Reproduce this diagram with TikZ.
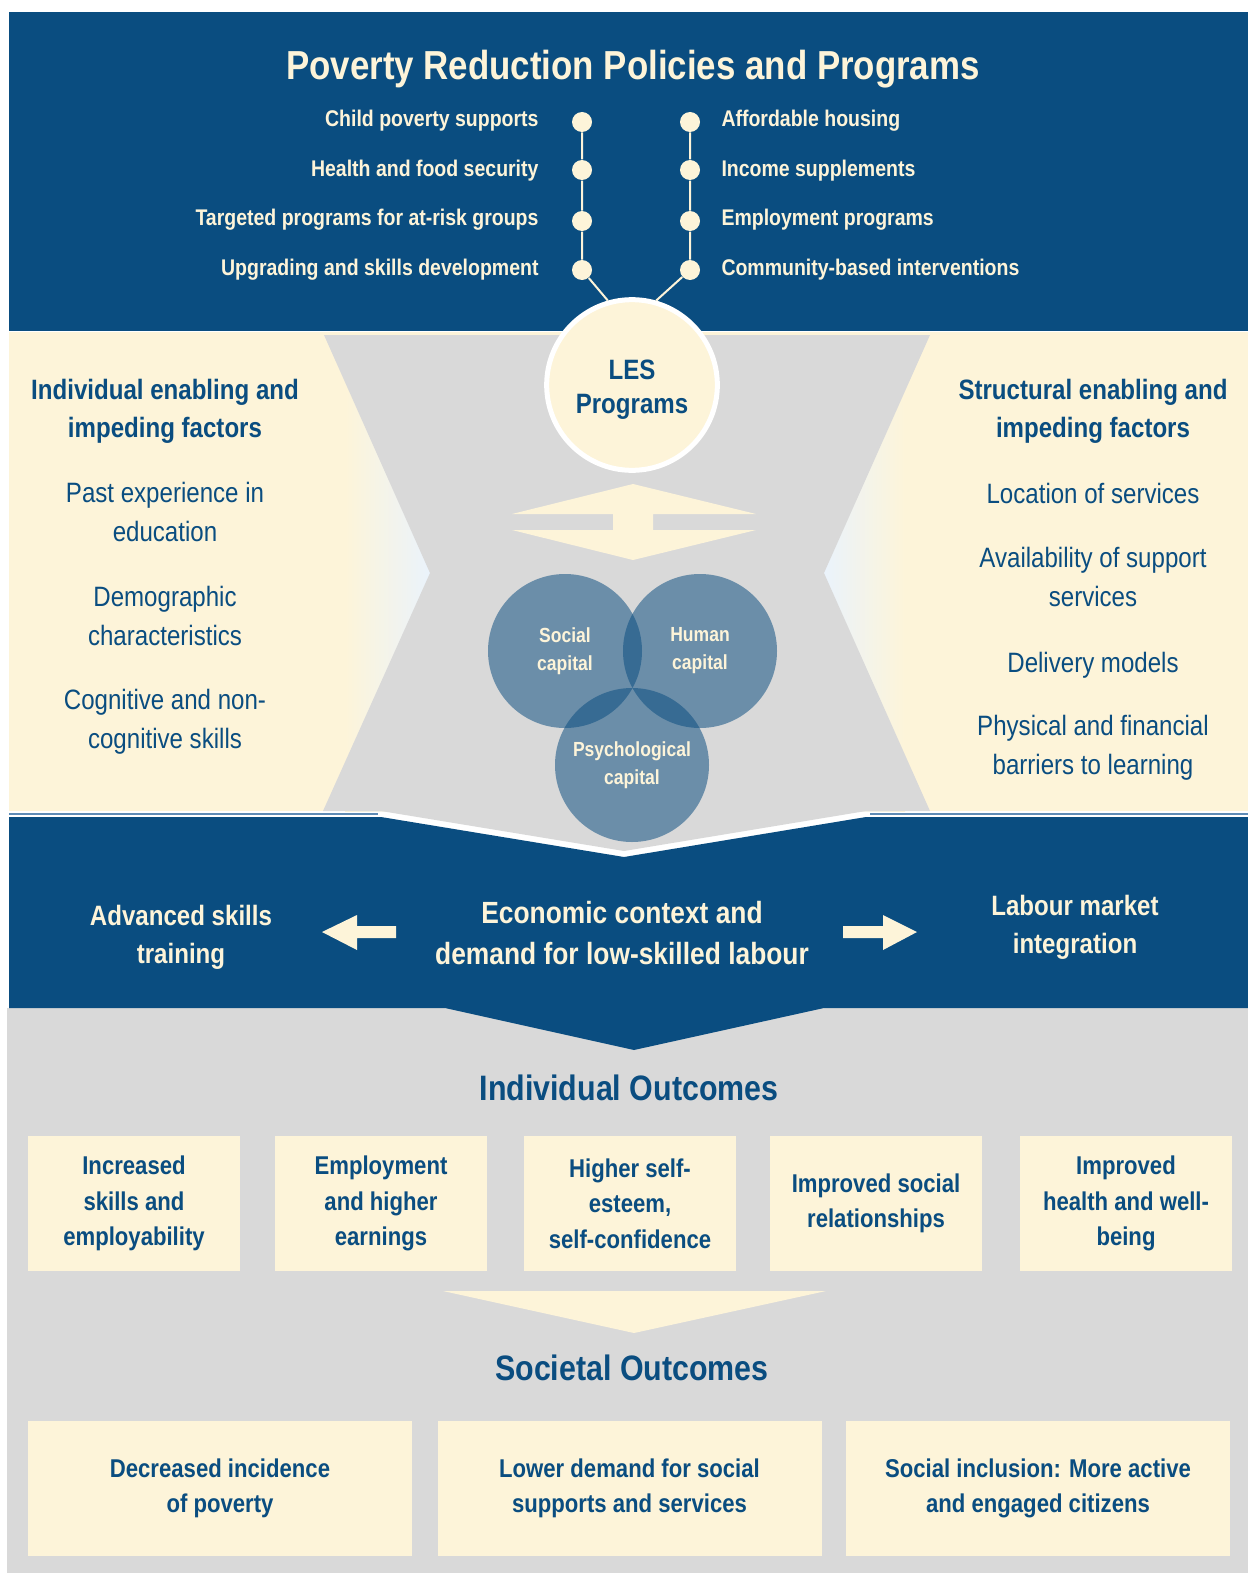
\documentclass[tikz,border=0pt]{standalone}
\usepackage{fontspec}
\setmainfont{Liberation Sans}[FakeStretch=0.86]
\definecolor{lesblue}{HTML}{0A4D80}
\definecolor{lescream}{HTML}{FDF4D9}
\definecolor{lesgrey}{HTML}{D9D9D9}
\definecolor{lespale}{HTML}{EAF3FC}
\definecolor{lesline}{HTML}{5E8BB5}
\tikzset{every picture/.style={line width=0.75pt}}
\tikzset{
	titletext/.style={font=\fontsize{30.4}{36}\selectfont\bfseries, text=lescream},
	itemtext/.style={font=\fontsize{17}{20}\selectfont\bfseries, text=lescream, inner sep=0pt},
	dotnode/.style={circle, fill=lescream, minimum size=15pt, inner sep=0pt},
	dotline/.style={draw=lescream, line width=1.5pt},
	headtext/.style={font=\fontsize{21}{28.5}\selectfont\bfseries, text=lesblue, align=center},
	factortext/.style={font=\fontsize{21}{29.25}\selectfont, text=lesblue, align=center},
	capnode/.style={circle, fill=lesblue, fill opacity=0.53, text opacity=1, minimum size=115.5pt, inner sep=0pt, font=\fontsize{15.3}{21}\selectfont\bfseries, text=lescream, align=center},
	bandtext/.style={font=\fontsize{21}{28.5}\selectfont\bfseries, text=lescream, align=center},
	outtitle/.style={font=\fontsize{26.5}{32}\selectfont\bfseries, text=lesblue},
	outbox/.style={fill=lescream, inner sep=0pt, minimum height=101.25pt, font=\fontsize{19.3}{26.6}\selectfont\bfseries, text=lesblue, align=center}
}

\begin{document}
\begin{tikzpicture}[x=0.75pt,y=0.75pt,yscale=-1,xscale=1]
	\useasboundingbox (0,0) rectangle (1248,1573);
	\fill[white] (0,0) rectangle (1248,1573);

	%Shape: Rectangle [top band]
	\fill[lesblue] (9,12) rectangle (1248,331);
	%Shape: Rectangle [factor band]
	\fill[lescream] (9,332) rectangle (1248,811);
	\shade[left color=lescream, right color=lespale] (345,335) rectangle (431,811);
	\shade[left color=lespale, right color=lescream] (823,335) rectangle (905,811);
	%Shape: Polygon [grey centre]
	\fill[lesgrey] (324,335) -- (930,335) -- (824,573) -- (930,811) -- (866,811) -- (624,851) -- (381,811) -- (323,811) -- (430,573) -- cycle;
	%Straight Lines
	\draw[lesline, line width=1pt] (9,814) -- (378,814);
	\draw[lesline, line width=1pt] (870,814) -- (1248,814);
	%Shape: Rectangle [outcomes area]
	\fill[lesgrey] (7,1008) rectangle (1248,1573);
	%Shape: Polygon [economic band]
	\fill[lesblue] (9,817) -- (381,817) -- (624,857) -- (866,817) -- (1248,817) -- (1248,1008) -- (824,1008) -- (634,1050) -- (445,1008) -- (9,1008) -- cycle;

	% Text Node
	\node[titletext] (title) at (633,69) {Poverty Reduction Policies and Programs};

	%Shape: Circles [dots]
	\node[dotnode] (dotL1) at (582,122) {};
	\node[dotnode] (dotL2) at (582,170) {};
	\node[dotnode] (dotL3) at (582,221) {};
	\node[dotnode] (dotL4) at (582,270) {};
	\node[dotnode] (dotR1) at (690,122) {};
	\node[dotnode] (dotR2) at (690,170) {};
	\node[dotnode] (dotR3) at (690,221) {};
	\node[dotnode] (dotR4) at (690,270) {};
	% Text Node
	\node[itemtext, anchor=east] (itemL1) at (539,121) {Child poverty supports};
	\node[itemtext, anchor=east] (itemL2) at (539,171) {Health and food security};
	\node[itemtext, anchor=east] (itemL3) at (539,220) {Targeted programs for at-risk groups};
	\node[itemtext, anchor=east] (itemL4) at (539,270) {Upgrading and skills development};
	\node[itemtext, anchor=west] (itemR1) at (721,121) {Affordable housing};
	\node[itemtext, anchor=west] (itemR2) at (721,171) {Income supplements};
	\node[itemtext, anchor=west] (itemR3) at (721,220) {Employment programs};
	\node[itemtext, anchor=west] (itemR4) at (721,270) {Community-based interventions};

	%Shape: Circle [LES]
	\node[circle, fill=lescream, draw=white, line width=3.75pt, minimum size=128pt, inner sep=0pt] (les) at (632,385) {};
	% Text Node
	\node[font=\fontsize{21}{25.5}\selectfont\bfseries, text=lesblue, align=center] (lestext) at (632,390) {LES\\Programs};

	%Straight Lines
	\draw[dotline] (dotL1) -- (dotL2) -- (dotL3) -- (dotL4) -- (les.106);
	\draw[dotline] (dotR1) -- (dotR2) -- (dotR3) -- (dotR4) -- (les.74);

	% Text Node [individual factors]
	\node[headtext] (indhead) at (165,411) {Individual enabling and\\impeding factors};
	\node[factortext] (indpast) at (165,512) {Past experience in\\education};
	\node[factortext] (inddemo) at (165,616) {Demographic\\characteristics};
	\node[factortext] (indcog) at (165,722) {Cognitive and non-\\cognitive skills};
	% Text Node [structural factors]
	\node[headtext] (strhead) at (1093,411) {Structural enabling and\\impeding factors};
	\node[factortext] (strloc) at (1093,493) {Location of services};
	\node[factortext] (stravail) at (1093,577) {Availability of support\\services};
	\node[factortext] (strdeliv) at (1093,665) {Delivery models};
	\node[factortext] (strphys) at (1093,748) {Physical and financial\\barriers to learning};

	%Shape: Polygon [double arrow]
	\fill[lescream] (633,484) -- (756,514) -- (653,514) -- (653,530) -- (756,530) -- (633,560) -- (512,530) -- (613,530) -- (613,514) -- (512,514) -- cycle;

	%Shape: Circles [capitals]
	\node[capnode] (social) at (565,651) {Social\\capital};
	\node[capnode] (human) at (700,651) {Human\\capital};
	\node[capnode] (psych) at (632,765) {Psychological\\capital};

	% Text Node [economic band]
	\node[bandtext, font=\fontsize{23}{30.75}\selectfont\bfseries] (econ) at (622,933) {Economic context and\\demand for low-skilled labour};
	\node[bandtext] (advanced) at (181,937) {Advanced skills\\training};
	\node[bandtext] (labour) at (1075,927) {Labour market\\integration};
	%Shape: Polygon [arrows]
	\fill[lescream] (322,932) -- (357,915) -- (357,926) -- (396,926) -- (396,938) -- (357,938) -- (357,950) -- cycle;
	\fill[lescream] (917,932) -- (883,915) -- (883,926) -- (843,926) -- (843,938) -- (883,938) -- (883,950) -- cycle;

	% Text Node [individual outcomes]
	\node[outtitle] (indout) at (629,1088) {Individual Outcomes};
	\node[outbox, minimum width=159pt] (out1) at (134,1203.5) {Increased\\skills and\\employability};
	\node[outbox, minimum width=159pt] (out2) at (381,1203.5) {Employment\\and higher\\earnings};
	\node[outbox, minimum width=159pt] (out3) at (630,1203.5) {Higher self-\\esteem,\\self-confidence};
	\node[outbox, minimum width=159pt] (out4) at (876,1203.5) {Improved social\\relationships};
	\node[outbox, minimum width=159pt] (out5) at (1126,1203.5) {Improved\\health and well-\\being};

	%Shape: Triangle
	\fill[lescream] (443,1291) -- (826,1291) -- (634,1333) -- cycle;

	% Text Node [societal outcomes]
	\node[outtitle] (socout) at (632,1368) {Societal Outcomes};
	\node[outbox, minimum width=288pt] (soc1) at (220,1488.5) {Decreased incidence\\of poverty};
	\node[outbox, minimum width=288pt] (soc2) at (629.5,1488.5) {Lower demand for social\\supports and services};
	\node[outbox, minimum width=288pt] (soc3) at (1038,1488.5) {Social inclusion: More active\\and engaged citizens};
\end{tikzpicture}
\end{document}
